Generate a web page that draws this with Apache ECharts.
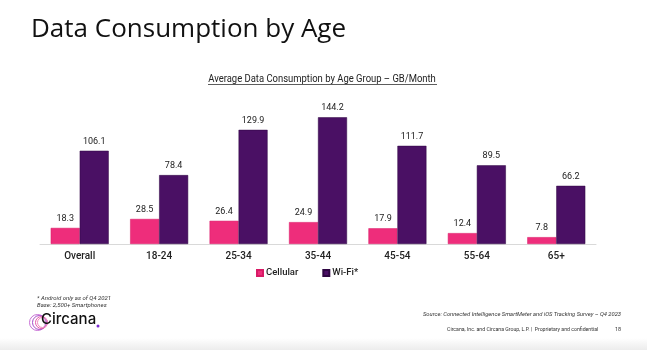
<!DOCTYPE html>
<html><head><meta charset="utf-8">
<script src="https://cdn.jsdelivr.net/npm/echarts@6/dist/echarts.min.js"></script>
<style>html,body{margin:0;padding:0;background:#fff}#c{width:647px;height:350px}</style>
</head><body><div id="c"></div>
<script>
const categories = ['Overall', '18-24', '25-34', '35-44', '45-54', '55-64', '65+'];
const cellular = [18.3, 28.5, 26.4, 24.9, 17.9, 12.4, 7.8];
const wifi = [106.1, 78.4, 129.9, 144.2, 111.7, 89.5, 66.2];
const seriesNames = ['Cellular', 'Wi-Fi*'];

const chart = echarts.init(document.getElementById('c'), null, {renderer: 'canvas'});
const lblStyle = {show: true, position: 'top', distance: 5, fontSize: 9, color: '#222', fontFamily: 'Roboto', formatter: p => p.value.toFixed(1)};
chart.setOption({
  animation: false,
  backgroundColor: '#fff',
  title: [
    {text: 'Data Consumption by Age', left: 26, top: 12, textStyle: {fontFamily: 'Open Sans', fontWeight: 400, fontSize: 26, color: '#111'}}
  ],
  legend: {
    data: seriesNames, bottom: 67, left: 251, itemWidth: 6, itemHeight: 6, itemGap: 24, icon: 'rect',
    textStyle: {fontFamily: 'Roboto', fontSize: 9.5, fontWeight: 500, color: '#222', padding: [0, 0, 0, -2]}
  },
  grid: {left: 40, right: 51, top: 103.4, bottom: 106},
  xAxis: {
    type: 'category', data: categories,
    axisLine: {lineStyle: {color: '#d9d9d9', width: 1}}, axisTick: {show: false},
    axisLabel: {fontFamily: 'Roboto', fontSize: 10, fontWeight: 500, color: '#222', margin: 7}
  },
  yAxis: {type: 'value', min: 0, max: 160, show: false, splitLine: {show: false}},
  series: [
    {name: seriesNames[0], type: 'bar', data: cellular, barWidth: 29, barGap: '0%',
     itemStyle: {color: '#EE2D7B', borderColor: '#d81a66', borderWidth: 0.5}, label: lblStyle},
    {name: seriesNames[1], type: 'bar', data: wifi, barWidth: 29,
     itemStyle: {color: '#4A1064', borderColor: '#2e0642', borderWidth: 0.5}, label: lblStyle}
  ],
  graphic: [
    {type: 'text', x: 322, y: 79, scaleX: 0.9, style: {text: 'Average Data Consumption by Age Group – GB/Month', font: '10.5px Roboto', fill: '#222', align: 'center', verticalAlign: 'middle'}},
    {type: 'line', shape: {x1: 208, y1: 84.5, x2: 437, y2: 84.5}, style: {stroke: '#333', lineWidth: 0.8}},
    {type: 'text', left: 37, top: 295, style: {text: '* Android only as of Q4 2021', font: 'italic 6px Roboto', fill: '#333'}},
    {type: 'text', left: 37, top: 302, style: {text: 'Base: 2,500+ Smartphones', font: 'italic 6px Roboto', fill: '#333'}},
    {type: 'group', left: 27, top: 312, children: [
      {type: 'circle', shape: {cx: 8, cy: 9, r: 8}, style: {fill: 'none', stroke: '#c86fd6', lineWidth: 1}},
      {type: 'circle', shape: {cx: 10, cy: 9, r: 7}, style: {fill: 'none', stroke: '#a64ac9', lineWidth: 1}},
      {type: 'circle', shape: {cx: 12, cy: 9, r: 6}, style: {fill: 'none', stroke: '#e25aa8', lineWidth: 1}},
      {type: 'circle', shape: {cx: 13, cy: 9, r: 5}, style: {fill: 'none', stroke: '#f08ac0', lineWidth: 1}}
    ]},
    {type: 'text', left: 41, top: 312, style: {text: 'Circana', font: '500 15px Inter', fill: '#111'}},
    {type: 'circle', shape: {cx: 98, cy: 326, r: 1.5}, style: {fill: '#7a2bd0'}},
    {type: 'text', left: 423, top: 312, style: {text: 'Source: Connected Intelligence SmartMeter and iOS Tracking Survey – Q4 2023', font: 'italic 5.8px Roboto', fill: '#333'}},
    {type: 'text', left: 447, top: 327, style: {text: 'Circana, Inc. and Circana Group, L.P. |  Proprietary and confidential', font: '5.2px Roboto', fill: '#333'}},
    {type: 'text', left: 615, top: 327, style: {text: '18', font: '5.4px Roboto', fill: '#333'}},
    {type: 'rect', left: 0, top: 338, shape: {width: 647, height: 12}, style: {fill: new echarts.graphic.LinearGradient(0, 0, 0, 1, [{offset: 0, color: '#ffffff'}, {offset: 1, color: '#ececec'}])}}
  ]
});
</script></body></html>
